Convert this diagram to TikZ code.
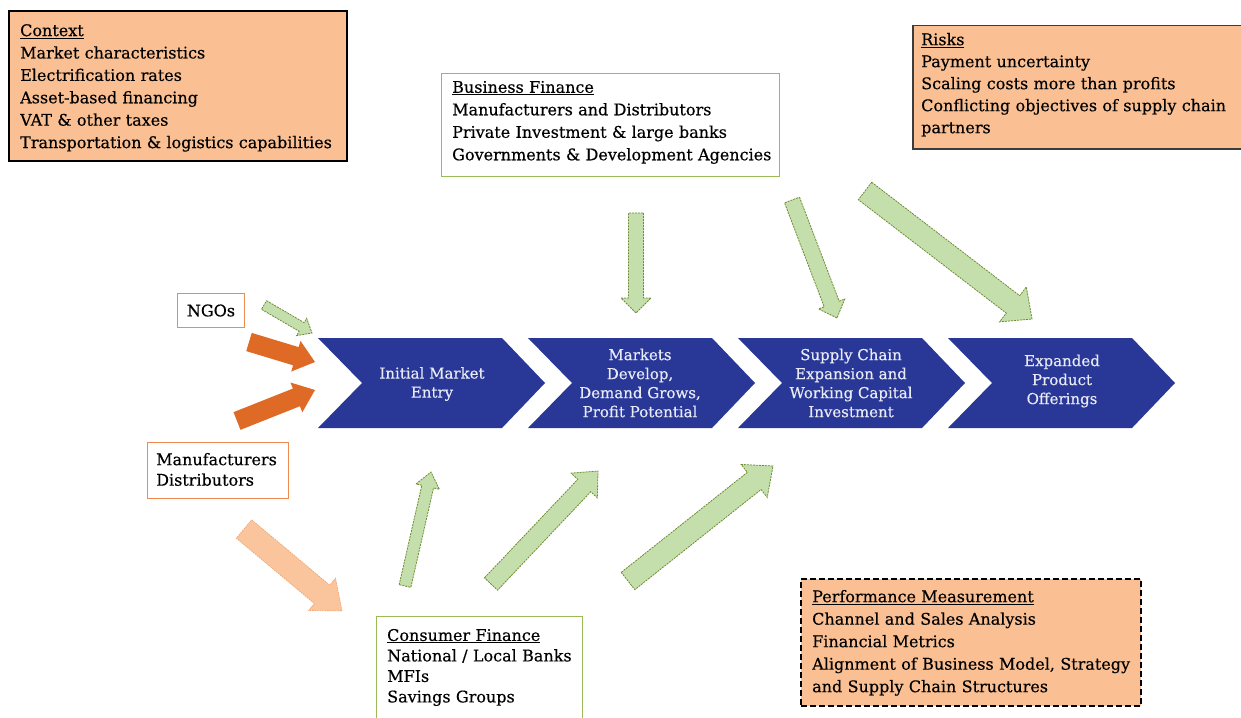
\documentclass[tikz,border=0pt]{standalone}
\usepackage{fontspec}
\setmainfont{DejaVu Serif}[FakeBold=0.4]
\usetikzlibrary{calc}
\definecolor{boxorange}{RGB}{250,192,148}
\definecolor{chevblue}{RGB}{41,55,150}
\definecolor{chevtext}{RGB}{232,235,246}
\definecolor{boxgreen}{RGB}{155,187,89}
\definecolor{boxorline}{RGB}{238,140,80}
\definecolor{arrgreen}{RGB}{196,222,172}
\definecolor{arrgreenline}{RGB}{110,140,50}
\definecolor{darkorange}{RGB}{222,106,38}
\definecolor{peach}{RGB}{250,196,156}
\definecolor{peachline}{RGB}{240,160,110}
\definecolor{riskline}{RGB}{60,60,60}
\newcommand{\blkarrow}[6]{%
  \coordinate (tmpH) at ($(#2)!#5!(#1)$);
  \path[#6] ($(#1)!#3/2!90:(#2)$) -- ($(tmpH)!#3/2!90:(#2)$) -- ($(tmpH)!#4/2!90:(#2)$) -- (#2)
    -- ($(tmpH)!#4/2!-90:(#2)$) -- ($(tmpH)!#3/2!-90:(#2)$) -- ($(#1)!#3/2!-90:(#2)$) -- cycle;
}
\begin{document}
\begin{tikzpicture}[x=1pt,y=-1pt,
  frame/.style={anchor=north west, inner sep=0pt},
  txt/.style={anchor=north west, inner sep=0pt, align=left, text width=330pt},
  chevtxt/.style={align=center, text=chevtext, font=\fontsize{15}{19}\selectfont},
  chevron/.style={fill=chevblue},
  greenarr/.style={fill=arrgreen, draw=arrgreenline, line width=0.8pt, dash pattern=on 2pt off 1pt},
  orangearr/.style={fill=darkorange},
  peacharr/.style={fill=peach, draw=peachline, line width=0.6pt, dash pattern=on 1.5pt off 1pt}]
\useasboundingbox[fill=white] (0,0) rectangle (1241,717);

% ---------- boxes ----------
\node[frame, draw=black, line width=2pt, fill=boxorange, minimum width=338pt, minimum height=150pt] (ctx) at (8,10) {};
\node[txt, font=\fontsize{16}{22.4}\selectfont] (ctxT) at (20,24) {\underline{Context}\\Market characteristics\\Electrification rates\\Asset-based financing\\VAT \& other taxes\\Transportation \& logistics capabilities};

\node[frame, draw=boxgreen, line width=1.3pt, fill=white, minimum width=338pt, minimum height=103pt] (bf) at (441,73) {};
\node[txt, font=\fontsize{16}{22.5}\selectfont] (bfT) at (452,80.8) {\underline{Business Finance}\\Manufacturers and Distributors\\Private Investment \& large banks\\Governments \& Development Agencies};

\node[frame, draw=riskline, line width=1.5pt, fill=boxorange, minimum width=340pt, minimum height=123pt] (risk) at (912,25) {};
\node[txt, font=\fontsize{16}{22}\selectfont] (riskT) at (921,32.8) {\underline{Risks}\\Payment uncertainty\\Scaling costs more than profits\\Conflicting objectives of supply chain\\partners};

\node[frame, draw=boxorline, line width=1pt, fill=white, minimum width=67pt, minimum height=34pt] (ngo) at (177,293) {};
\node[font=\fontsize{16}{18}\selectfont] (ngoT) at (ngo.center) {NGOs};

\node[frame, draw=boxorline, line width=1pt, fill=white, minimum width=141pt, minimum height=56pt] (md) at (147,442) {};
\node[txt, font=\fontsize{16}{20.5}\selectfont] (mdT) at (156,452.8) {Manufacturers\\Distributors};

\node[frame, draw=boxgreen, line width=1.3pt, fill=white, minimum width=206pt, minimum height=110pt] (cf) at (376,616) {};
\node[txt, font=\fontsize{16}{20.5}\selectfont] (cfT) at (387,628.8) {\underline{Consumer Finance}\\National / Local Banks\\MFIs\\Savings Groups};

\node[frame, draw=black, line width=2pt, dash pattern=on 6pt off 3pt, fill=boxorange, minimum width=340pt, minimum height=127pt] (pm) at (800,578) {};
\node[txt, font=\fontsize{16}{22.5}\selectfont] (pmT) at (812,589.8) {\underline{Performance Measurement}\\Channel and Sales Analysis\\Financial Metrics\\Alignment of Business Model, Strategy\\and Supply Chain Structures};

% ---------- chevrons ----------
\foreach \xo in {318,528,738,948}{
  \fill[chevron] (\xo,338) -- ({\xo+184},338) -- ({\xo+227},383) -- ({\xo+184},428) -- (\xo,428) -- ({\xo+44},383) -- cycle;
}
\node[chevtxt] (c1) at (432,384) {Initial Market\\Entry};
\node[chevtxt] (c2) at (640,383) {Markets\\Develop,\\Demand Grows,\\Profit Potential};
\node[chevtxt] (c3) at (851,383) {Supply Chain\\Expansion and\\Working Capital\\Investment};
\node[chevtxt] (c4) at (1062,381) {Expanded\\Product\\Offerings};

% ---------- block arrows ----------
\coordinate (ngoA1) at (264,305);  \coordinate (ngoA2) at (312,333);
\coordinate (orA1) at (249,342);   \coordinate (orA2) at (315,362);
\coordinate (orB1) at (237,421);   \coordinate (orB2) at (315,390);
\coordinate (peA1) at (244,529);   \coordinate (peA2) at (342,611);
\coordinate (gu11) at (405,586);   \coordinate (gu12) at (431,472);
\coordinate (gu21) at (491,584);   \coordinate (gu22) at (598,471);
\coordinate (gu31) at (628,581);   \coordinate (gu32) at (773,466);
\coordinate (gd11) at (636,213);   \coordinate (gd12) at (636,313);
\coordinate (gd21) at (792,200);   \coordinate (gd22) at (837,318);
\coordinate (gd31) at (865,191);   \coordinate (gd32) at (1032,319);

\blkarrow{ngoA1}{ngoA2}{10pt}{20pt}{12pt}{greenarr}
\blkarrow{orA1}{orA2}{19pt}{32pt}{20pt}{orangearr}
\blkarrow{orB1}{orB2}{19pt}{32pt}{20pt}{orangearr}
\blkarrow{peA1}{peA2}{24pt}{42pt}{26pt}{peacharr}
\blkarrow{gu11}{gu12}{12pt}{24pt}{15pt}{greenarr}
\blkarrow{gu21}{gu22}{18pt}{36pt}{20pt}{greenarr}
\blkarrow{gu31}{gu32}{22pt}{42pt}{24pt}{greenarr}
\blkarrow{gd11}{gd12}{15pt}{30pt}{15pt}{greenarr}
\blkarrow{gd21}{gd22}{16pt}{28pt}{15pt}{greenarr}
\blkarrow{gd31}{gd32}{22pt}{44pt}{24pt}{greenarr}
\end{tikzpicture}
\end{document}
